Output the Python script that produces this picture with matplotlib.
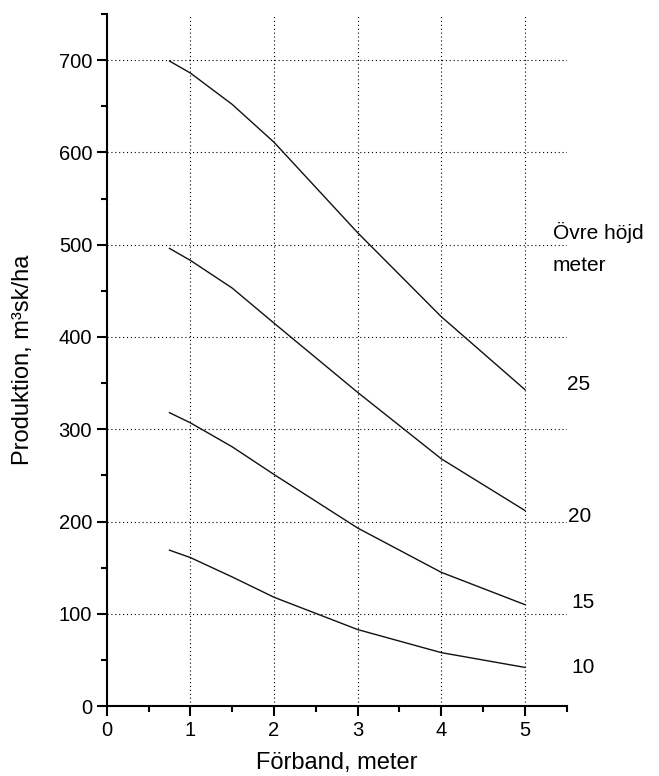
import matplotlib
matplotlib.use('Agg')
import matplotlib.pyplot as plt
from matplotlib.ticker import MultipleLocator

plt.rcParams['font.family'] = ['Liberation Sans', 'DejaVu Sans']

# data
forband = [0.75, 1, 1.5, 2, 3, 4, 5]
hojd_25 = [699, 686, 652, 611, 513, 422, 343]
hojd_20 = [496, 483, 453, 415, 340, 268, 212]
hojd_15 = [318, 307, 281, 251, 193, 145, 110]
hojd_10 = [169, 161, 140, 118, 83, 58, 42]
curves = [hojd_25, hojd_20, hojd_15, hojd_10]
labels = ['25', '20', '15', '10']
label_x = [5.50, 5.51, 5.56, 5.56]
label_y = [348, 205, 112, 42]

fig = plt.figure(figsize=(6.59, 7.76), dpi=100)
ax = fig.add_axes([0.162, 0.090, 0.698, 0.892])

for vals in curves:
    ax.plot(forband, vals, color='#111111', lw=1.0)

for lab, xx, yy in zip(labels, label_x, label_y):
    ax.text(xx, yy, lab, fontsize=15, va='center', ha='left', clip_on=False)
ax.text(5.335, 513, 'Övre höjd', fontsize=15, va='center', ha='left', clip_on=False)
ax.text(5.335, 477, 'meter', fontsize=15, va='center', ha='left', clip_on=False)

ax.set_xlim(0, 5.5)
ax.set_ylim(0, 750)
ax.xaxis.set_major_locator(MultipleLocator(1))
ax.xaxis.set_minor_locator(MultipleLocator(0.5))
ax.yaxis.set_major_locator(MultipleLocator(100))
ax.yaxis.set_minor_locator(MultipleLocator(50))
ax.tick_params(which='major', length=7, width=1.5, labelsize=14.5, direction='out')
ax.tick_params(which='minor', length=4, width=1.5, direction='out')

ax.grid(True, which='major', color='black', lw=0.8, linestyle=(0, (1, 2.5)))
ax.spines['top'].set_visible(False)
ax.spines['right'].set_visible(False)
ax.spines['left'].set_linewidth(1.5)
ax.spines['bottom'].set_linewidth(1.5)

ax.set_xlabel('Förband, meter', fontsize=17, labelpad=9)
ax.set_ylabel('Produktion, m³sk/ha', fontsize=17, labelpad=18)

plt.savefig('out.png', dpi=100)
